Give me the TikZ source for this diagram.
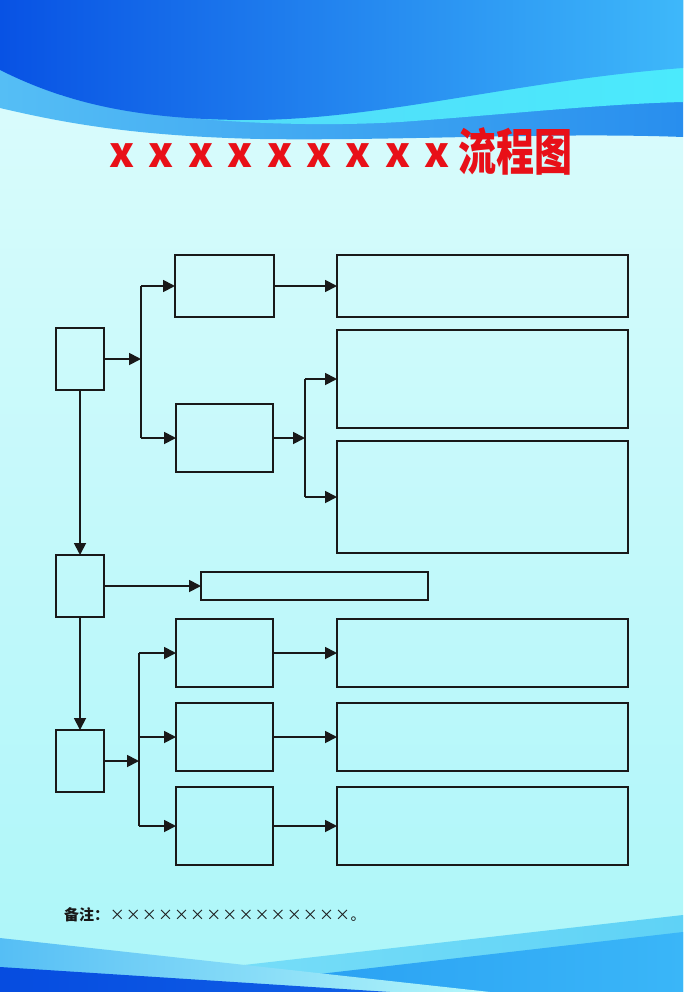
\documentclass[tikz,border=0pt]{standalone}
\usepackage{fontspec}
\usepackage{graphicx}
\newfontfamily\cjk{Noto Sans CJK SC}
\usetikzlibrary{arrows.meta}
\definecolor{bgtop}{RGB}{222,252,252}
\definecolor{bgbot}{RGB}{172,246,249}
\definecolor{dkL}{RGB}{8,82,228}
\definecolor{dkM}{RGB}{28,128,238}
\definecolor{dkR}{RGB}{62,184,250}
\definecolor{cyL}{RGB}{85,215,248}
\definecolor{cyR}{RGB}{75,234,252}
\definecolor{bdL}{RGB}{85,190,245}
\definecolor{bdM}{RGB}{45,145,238}
\definecolor{bdR}{RGB}{40,142,238}
\definecolor{rlL}{RGB}{120,222,248}
\definecolor{rlR}{RGB}{95,210,246}
\definecolor{rdL}{RGB}{40,158,242}
\definecolor{rdR}{RGB}{58,182,248}
\definecolor{llL}{RGB}{85,190,245}
\definecolor{llR}{RGB}{182,248,250}
\definecolor{btL}{RGB}{6,76,224}
\definecolor{btR}{RGB}{16,96,230}
\definecolor{titlered}{RGB}{232,16,24}
\definecolor{notegray}{RGB}{25,25,25}
\newcommand{\nx}{\makebox[16.1pt][c]{×}}
\begin{document}
\begin{tikzpicture}[x=1pt,y=-1pt,
  box/.style={draw=black!90,line width=1.8pt,inner sep=0pt,outer sep=0pt},
  arr/.style={draw=black!90,line width=1.8pt,-{Triangle[length=12pt,width=12pt]}},
  ln/.style={draw=black!90,line width=1.8pt},
  redx/.style={text=titlered,inner sep=0pt,font=\cjk\bfseries\fontsize{42}{42}\selectfont}]
\useasboundingbox (0,0) rectangle (683,992);
% background
\shade[top color=bgtop,bottom color=bgbot] (0,0) rectangle (683,992);
% top waves
\shade[left color=bdL,middle color=bdM,right color=bdR]
  (0,0) -- (0,108) .. controls (60,122) and (130,136) .. (260,139)
  .. controls (400,141) and (550,132) .. (683,137) -- (683,0) -- cycle;
\shade[left color=cyL,right color=cyR]
  (60,0) -- (60,95) .. controls (150,122) and (300,128) .. (400,122)
  .. controls (500,115) and (600,104) .. (683,102) -- (683,0) -- cycle;
\shade[left color=dkL,middle color=dkM,right color=dkR]
  (0,0) -- (0,70) .. controls (60,100) and (130,120) .. (250,120)
  .. controls (380,120) and (520,80) .. (683,68) -- (683,0) -- cycle;
% bottom waves
\shade[left color=rlL,right color=rlR] (683,915) -- (200,970) -- (200,992) -- (683,992) -- cycle;
\shade[left color=rdL,right color=rdR] (683,932) -- (250,982) -- (250,992) -- (683,992) -- cycle;
\shade[left color=llL,right color=llR] (0,938) -- (490,992) -- (0,992) -- cycle;
\shade[left color=btL,right color=btR] (0,967) -- (390,992) -- (0,992) -- cycle;
% title
\foreach \i in {0,...,8}{
  \node[redx] (tx\i) at ({122+39.4*\i},156) {x};
}
\node[text=titlered,inner sep=0pt] (title) at (515,151.5)
  {\scalebox{0.76}[1]{\cjk\bfseries\fontsize{50}{50}\selectfont 流程图}};
% boxes
\node[box,minimum width=48pt,minimum height=62pt] (A) at (80,359) {};
\node[box,minimum width=99pt,minimum height=62pt] (B1) at (224.5,286) {};
\node[box,minimum width=97pt,minimum height=68pt] (B2) at (224.5,438) {};
\node[box,minimum width=291pt,minimum height=62pt] (C1) at (482.5,286) {};
\node[box,minimum width=291pt,minimum height=98pt] (C2) at (482.5,379) {};
\node[box,minimum width=291pt,minimum height=112pt] (C3) at (482.5,497) {};
\node[box,minimum width=48pt,minimum height=62pt] (D) at (80,586) {};
\node[box,minimum width=227pt,minimum height=28pt] (E) at (314.5,586) {};
\node[box,minimum width=48pt,minimum height=62pt] (F) at (80,761) {};
\node[box,minimum width=97pt,minimum height=68pt] (G1) at (224.5,653) {};
\node[box,minimum width=97pt,minimum height=68pt] (G2) at (224.5,737) {};
\node[box,minimum width=97pt,minimum height=78pt] (G3) at (224.5,826) {};
\node[box,minimum width=291pt,minimum height=68pt] (H1) at (482.5,653) {};
\node[box,minimum width=291pt,minimum height=68pt] (H2) at (482.5,737) {};
\node[box,minimum width=291pt,minimum height=78pt] (H3) at (482.5,826) {};
% junctions
\coordinate (j1) at (141,359);
\coordinate (j1t) at (141,286);
\coordinate (j1b) at (141,438);
\coordinate (j2) at (305,438);
\coordinate (j2t) at (305,379);
\coordinate (j2b) at (305,497);
\coordinate (j3) at (139,761);
\coordinate (j3t) at (139,653);
\coordinate (j3m) at (139,737);
\coordinate (j3b) at (139,826);
% connectors
\draw[arr] (A.east) -- (j1);
\draw[ln] (j1t) -- (j1b);
\draw[arr] (j1t) -- (B1.west);
\draw[arr] (j1b) -- (B2.west);
\draw[arr] (B1.east) -- (C1.west);
\draw[arr] (B2.east) -- (j2);
\draw[ln] (j2t) -- (j2b);
\draw[arr] (j2t) -- (C2.west);
\draw[arr] (j2b) -- (C3.west);
\draw[arr] (A.south) -- (D.north);
\draw[arr] (D.east) -- (E.west);
\draw[arr] (D.south) -- (F.north);
\draw[arr] (F.east) -- (j3);
\draw[ln] (j3t) -- (j3b);
\draw[arr] (j3t) -- (G1.west);
\draw[arr] (j3m) -- (G2.west);
\draw[arr] (j3b) -- (G3.west);
\draw[arr] (G1.east) -- (H1.west);
\draw[arr] (G2.east) -- (H2.west);
\draw[arr] (G3.east) -- (H3.west);
% note
\node[anchor=base west,inner sep=0pt,text=notegray,font=\cjk\fontsize{15}{15}\selectfont] (note) at (64,920)
  {{\bfseries 备注：}\nx\nx\nx\nx\nx\nx\nx\nx\nx\nx\nx\nx\nx\nx\nx 。};
\end{tikzpicture}
\end{document}
